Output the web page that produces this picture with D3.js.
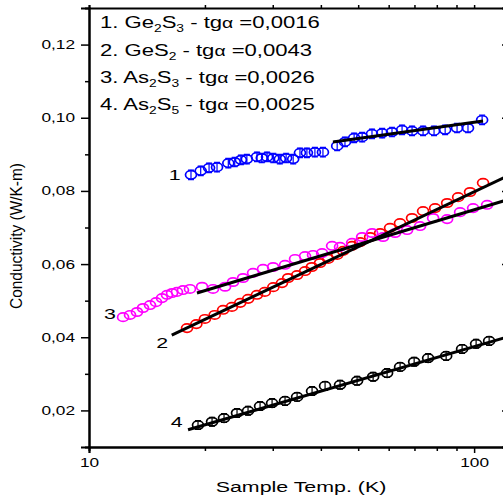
<!DOCTYPE html>
<html>
<head>
<meta charset="utf-8">
<script src="https://cdn.jsdelivr.net/npm/d3@7"></script>
<style>
  body { margin: 0; background: #fff; }
  text { font-family: "Liberation Sans", Arial, sans-serif; fill: #000; }
</style>
</head>
<body>
<div id="chart"></div>
<script>
// values
var temps1 = [18.4, 19.5, 20.5, 21.5, 23.0, 23.9, 24.8, 25.7, 27.3, 28.1, 29.0, 30.1, 31.3, 32.5, 33.9, 35.3, 36.8, 38.6, 40.5, 44.1, 46.2, 48.8, 51.2, 54.3, 57.7, 61.2, 65.0, 69.0, 73.7, 78.7, 84.1, 90.3, 96.4, 104.9];
var cond1 = [0.0844, 0.0855, 0.0863, 0.0865, 0.0876, 0.0879, 0.0885, 0.0887, 0.0893, 0.0890, 0.0893, 0.0890, 0.0887, 0.0890, 0.0887, 0.0904, 0.0904, 0.0906, 0.0906, 0.0923, 0.0934, 0.0945, 0.0947, 0.0956, 0.0958, 0.0961, 0.0967, 0.0964, 0.0964, 0.0964, 0.0967, 0.0972, 0.0972, 0.0994];

var temps2 = [17.97, 19.0, 20.0, 21.2, 22.3, 23.5, 24.7, 25.9, 27.3, 28.6, 30.1, 31.7, 32.9, 34.7, 36.4, 37.9, 39.8, 41.8, 44.1, 45.7, 48.2, 50.6, 53.7, 57.0, 60.5, 64.2, 69.0, 73.7, 79.2, 85.1, 90.9, 97.6, 105.5];
var cond2 = [0.0425, 0.0436, 0.0450, 0.0461, 0.0475, 0.0483, 0.0494, 0.0505, 0.0516, 0.0524, 0.0537, 0.0548, 0.0562, 0.0570, 0.0581, 0.0592, 0.0603, 0.0614, 0.0625, 0.0636, 0.0650, 0.0660, 0.0674, 0.0685, 0.0699, 0.0712, 0.0726, 0.0745, 0.0753, 0.0767, 0.0783, 0.0797, 0.0822];

var temps3 = [12.26, 12.78, 13.32, 13.81, 14.40, 14.93, 15.47, 15.94, 16.43, 16.92, 17.54, 18.29, 19.66, 20.99, 22.56, 23.66, 25.12, 26.67, 28.31, 30.06, 32.29, 34.28, 36.39, 38.17, 40.30, 42.78, 44.86, 48.21, 51.19, 54.35, 58.02, 62.33, 66.99, 72.40, 78.26, 85.10, 91.97, 99.40, 108.1];
var cond3 = [0.0455, 0.0461, 0.0469, 0.0480, 0.0488, 0.0496, 0.0507, 0.0516, 0.0521, 0.0524, 0.0529, 0.0532, 0.0538, 0.0532, 0.0538, 0.0551, 0.0562, 0.0576, 0.0587, 0.0592, 0.0598, 0.0614, 0.0622, 0.0625, 0.0630, 0.0650, 0.0647, 0.0658, 0.0674, 0.0685, 0.0674, 0.0685, 0.0693, 0.0704, 0.0726, 0.0723, 0.0742, 0.0753, 0.0762];

var temps4 = [19.19, 20.87, 22.42, 24.23, 25.88, 27.81, 29.88, 32.29, 34.70, 37.95, 41.02, 44.86, 49.67, 54.67, 59.43, 64.24, 69.87, 75.96, 84.60, 93.07, 101.2, 109.4];
var cond4 = [0.0160, 0.0169, 0.0179, 0.0193, 0.0199, 0.0212, 0.0220, 0.0226, 0.0237, 0.0253, 0.0267, 0.0270, 0.0281, 0.0292, 0.0302, 0.0319, 0.0333, 0.0343, 0.0349, 0.0368, 0.0382, 0.0390];

// linear fits (end points)
var fitTemps1 = [43.0, 105.5], fitCond1 = [0.0934, 0.0991];
var fitTemps2 = [16.4, 125], fitCond2 = [0.0406, 0.0846];
var fitTemps3 = [19.07, 125], fitCond3 = [0.0521, 0.0779];
var fitTemps4 = [18.08, 125], fitCond4 = [0.0147, 0.0404];

var errs = [0.0013, 0, 0, 0.0012];

var seriesLabels = ["1", "2", "3", "4"];
var labelTemps = [16.7, 15.5, 11.34, 16.9];
var labelCond = [0.0845, 0.0387, 0.0466, 0.0169];

var legendNames = [["1. Ge", "2", "S", "3"], ["2. GeS", "2", "", ""], ["3. As", "2", "S", "3"], ["4. As", "2", "S", "5"]];
var legendSlopes = ["0,0016", "0,0043", "0,0026", "0,0025"];

var yMajor = [0.02, 0.04, 0.06, 0.08, 0.10, 0.12];
var yMinor = [0.03, 0.05, 0.07, 0.09, 0.11];
var xMajor = [10, 100];
var xMinor = [20, 30, 40, 50, 60, 70, 80, 90];

var colors = ["#0000ff", "#ff0000", "#ff00ff", "#000000"];
var sx = 1.38; // the figure is stretched sideways

var W = 503, H = 496;
var x = d3.scaleLog().domain([10, 121]).range([89, 506]);
var y = d3.scaleLinear().domain([0.01, 0.13]).range([447, 8]);

var svg = d3.select("#chart").append("svg")
    .attr("width", W)
    .attr("height", H);

svg.append("defs").append("clipPath").attr("id", "clip")
    .append("rect").attr("x", 89).attr("y", 8).attr("width", 417).attr("height", 439);

var fmt = function(d) { return d3.format(".2f")(d).replace(".", ","); };

// axes
svg.append("g").attr("transform", "translate(0,447)")
    .call(d3.axisBottom(x).tickValues(xMajor).tickSize(6).tickPadding(5).tickFormat(d3.format("d")));
svg.append("g").attr("transform", "translate(0,447)")
    .call(d3.axisBottom(x).tickValues(xMinor).tickSize(4).tickFormat(""));
svg.append("g").attr("transform", "translate(0,8)")
    .call(d3.axisTop(x).tickValues(xMajor.concat(xMinor)).tickSize(3).tickFormat(""));
svg.append("g").attr("transform", "translate(89,0)")
    .call(d3.axisLeft(y).tickValues(yMajor).tickSize(8).tickPadding(6).tickFormat(fmt));
svg.append("g").attr("transform", "translate(89,0)")
    .call(d3.axisLeft(y).tickValues(yMinor).tickSize(4).tickFormat(""));
svg.append("g").attr("transform", "translate(506,0)")
    .call(d3.axisLeft(y).tickValues(yMajor).tickSize(4).tickFormat(""));

svg.selectAll(".domain").attr("stroke", "#000").attr("stroke-width", 2);
svg.selectAll(".tick line").attr("stroke", "#000").attr("stroke-width", 1.5);
// stretch tick labels sideways around their anchor
svg.selectAll(".tick text").each(function() {
    var t = d3.select(this);
    var bx = +t.attr("x") || 0;
    t.attr("font-size", 12.5)
        .attr("font-family", "Liberation Sans, Arial, sans-serif")
        .attr("transform", "translate(" + bx + ",0) scale(" + sx + ",1) translate(" + (-bx) + ",0)");
});

// axis titles
svg.append("text")
    .attr("transform", "translate(301,492) scale(" + sx + ",1)")
    .attr("text-anchor", "middle")
    .attr("font-size", 15.5)
    .text("Sample Temp. (K)");

svg.append("text")
    .attr("transform", "translate(22,236) scale(" + sx + ",1) rotate(-90)")
    .attr("text-anchor", "middle")
    .attr("font-size", 12.5)
    .attr("textLength", 146)
    .attr("lengthAdjust", "spacingAndGlyphs")
    .text("Conductivity (W/K-m)");

// data layer
var plot = svg.append("g").attr("clip-path", "url(#clip)");

var allTemps = [temps1, temps2, temps3, temps4];
var allCond = [cond1, cond2, cond3, cond4];
var fits = [[fitTemps1, fitCond1], [fitTemps2, fitCond2], [fitTemps3, fitCond3], [fitTemps4, fitCond4]];

var line = d3.line().x(function(d) { return x(d[0]); }).y(function(d) { return y(d[1]); });

allTemps.forEach(function(ts, i) {
    var pts = ts.map(function(t, j) { return [t, allCond[i][j]]; });
    var g = plot.append("g");
    if (errs[i] > 0) {
        var e = errs[i];
        g.selectAll("path.err").data(pts).enter().append("path")
            .attr("class", "err")
            .attr("fill", "none")
            .attr("stroke", colors[i])
            .attr("stroke-width", 1.2)
            .attr("d", function(d) {
                var cx = x(d[0]), y0 = y(d[1] - e), y1 = y(d[1] + e);
                return "M" + (cx - 3) + "," + y0 + "H" + (cx + 3) +
                    "M" + cx + "," + y0 + "V" + y1 +
                    "M" + (cx - 3) + "," + y1 + "H" + (cx + 3);
            });
    }
    g.selectAll("ellipse").data(pts).enter().append("ellipse")
        .attr("cx", function(d) { return x(d[0]); })
        .attr("cy", function(d) { return y(d[1]); })
        .attr("rx", 5.5)
        .attr("ry", 4.2)
        .attr("fill", "#fff")
        .attr("fill-opacity", 0)
        .attr("stroke", colors[i])
        .attr("stroke-width", 1.7);
});

fits.forEach(function(f) {
    var pts = f[0].map(function(t, j) { return [t, f[1][j]]; });
    plot.append("path")
        .datum(pts)
        .attr("d", line)
        .attr("fill", "none")
        .attr("stroke", "#000")
        .attr("stroke-width", 3);
});

// series numbers next to the curves
seriesLabels.forEach(function(s, i) {
    svg.append("text")
        .attr("transform", "translate(" + x(labelTemps[i]) + "," + y(labelCond[i]) + ") scale(" + sx + ",1)")
        .attr("text-anchor", "middle")
        .attr("dy", "0.36em")
        .attr("font-size", 15.5)
        .text(s);
});

// legend text block
var legendBase = [28, 56, 83, 110];
legendNames.forEach(function(n, i) {
    var t = svg.append("text")
        .attr("transform", "translate(100," + legendBase[i] + ") scale(" + sx + ",1)")
        .attr("font-size", 16);
    t.append("tspan").text(n[0]);
    t.append("tspan").attr("font-size", 10).attr("dy", 4).text(n[1]);
    if (n[2]) {
        t.append("tspan").attr("dy", -4).text(n[2]);
        t.append("tspan").attr("font-size", 10).attr("dy", 4).text(n[3]);
    }
    t.append("tspan").attr("dy", -4).text(" - tg");
    t.append("tspan").attr("font-size", 14).text("\u03b1");
    t.append("tspan").text(" =" + legendSlopes[i]);
});
</script>
</body>
</html>
